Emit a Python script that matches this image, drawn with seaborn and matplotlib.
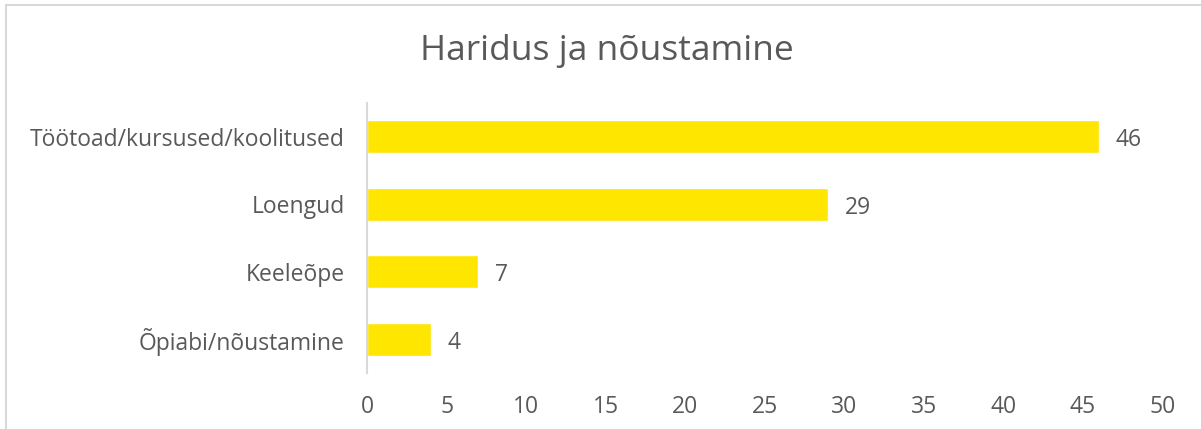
import matplotlib
matplotlib.use('Agg')
import matplotlib.pyplot as plt
import matplotlib.patches as mpatches
import seaborn as sns
import pandas as pd

# Chart data
categories = ['Töötoad/kursused/koolitused', 'Loengud', 'Keeleõpe', 'Õpiabi/nõustamine']
values = [46, 29, 7, 4]
x_ticks = [0, 5, 10, 15, 20, 25, 30, 35, 40, 45, 50]

df = pd.DataFrame({'Kategooria': categories, 'Arv': values})

sns.set_style('white')
plt.rcParams['font.family'] = ['Open Sans', 'DejaVu Sans']
text_color = '#595959'
grid_color = '#d9d9d9'

fig = plt.figure(figsize=(12.01, 4.29), dpi=100)
ax = fig.add_axes([0.3056, 0.1305, 0.968 - 0.3056, 0.76 - 0.1305])

sns.barplot(data=df, x='Arv', y='Kategooria', orient='h', color='#FFE600',
            width=0.49, saturation=1, ax=ax)

ax.set_xlim(0, 50)
ax.set_ylim(3.5, -0.5)
ax.set_xticks(x_ticks)
ax.set_xlabel('')
ax.set_ylabel('')
ax.tick_params(axis='both', length=0, labelsize=16.5, colors=text_color)
ax.tick_params(axis='x', pad=16)
ax.tick_params(axis='y', pad=16)

for side in ['top', 'right', 'bottom']:
    ax.spines[side].set_visible(False)
ax.spines['left'].set_color(grid_color)
ax.spines['left'].set_linewidth(1.5)

labels = ax.bar_label(ax.containers[0], padding=12, fontsize=16.5, color=text_color)
# nudge value labels down a little so digits sit on bar centre
for t in labels:
    t.xyann = (12, -2.5)

fig.text(0.505, 0.882, 'Haridus ja nõustamine', ha='center', va='center',
         fontsize=25.5, color=text_color)

# outer chart frame (only top and left edges visible)
frame = mpatches.Rectangle((6 / 1201, -0.1), 1.2, 1.1 - 5 / 429,
                           transform=fig.transFigure, fill=False,
                           edgecolor=grid_color, linewidth=1.5)
fig.patches.append(frame)

fig.savefig('out.png', dpi=100)
